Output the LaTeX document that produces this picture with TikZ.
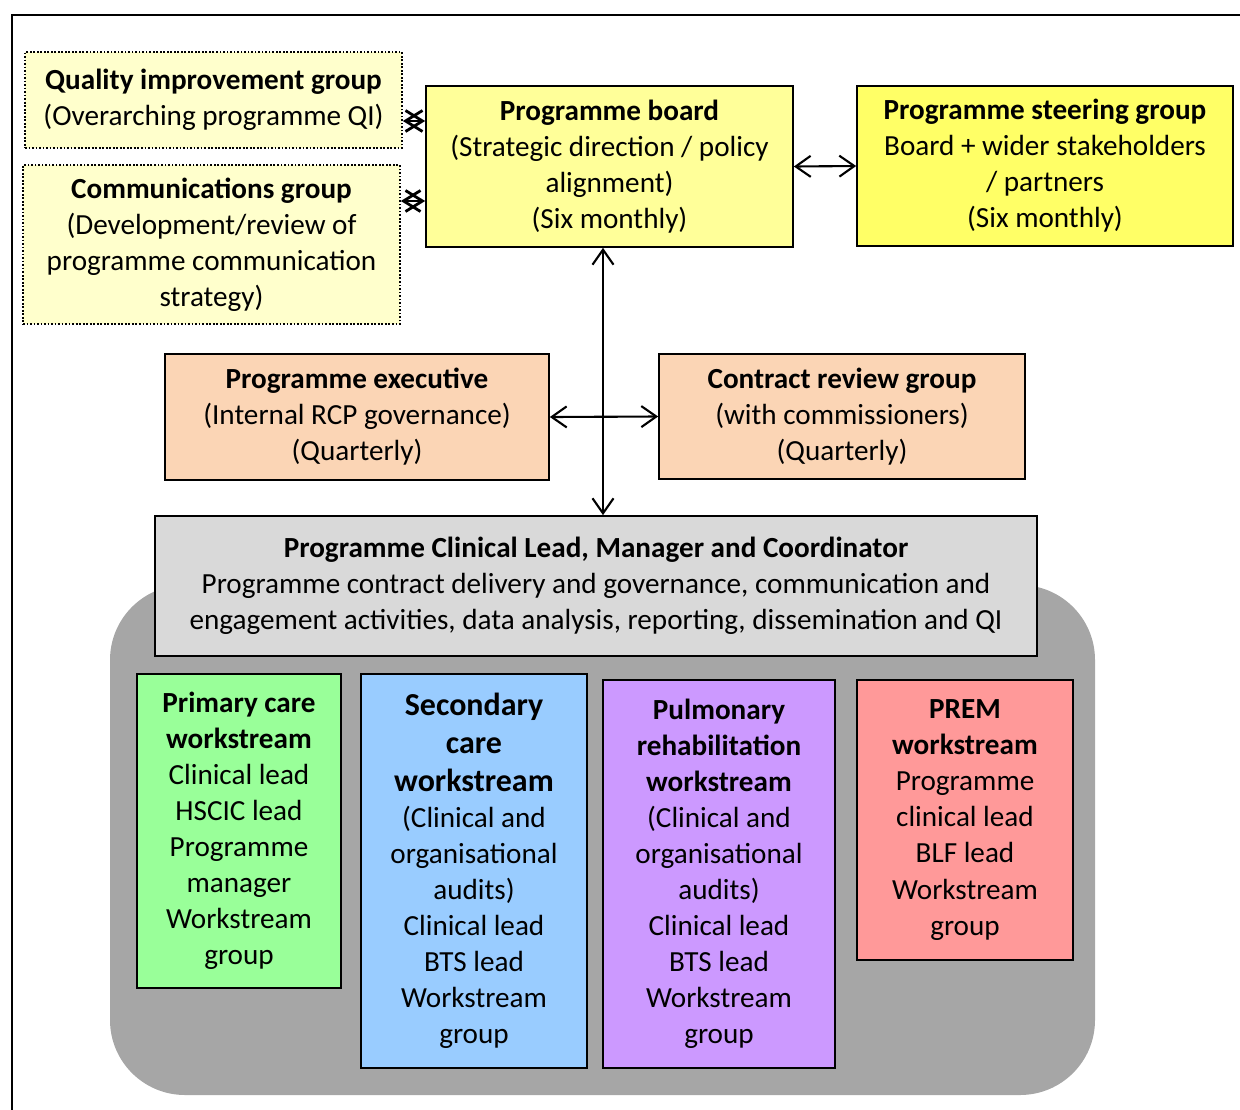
\documentclass[tikz,border=0pt]{standalone}
\usepackage{fontspec}
\setmainfont{Carlito}
\usetikzlibrary{arrows.meta}

\definecolor{jaunepale}{HTML}{FFFFCC}
\definecolor{jaunebord}{HTML}{FFFF99}
\definecolor{jaunevif}{HTML}{FFFF66}
\definecolor{peche}{HTML}{FBD5B5}
\definecolor{grisclair}{HTML}{D9D9D9}
\definecolor{grisfond}{HTML}{A6A6A6}
\definecolor{vert}{HTML}{99FF99}
\definecolor{bleu}{HTML}{99CCFF}
\definecolor{violet}{HTML}{CC99FF}
\definecolor{rose}{HTML}{FF9999}

\begin{document}
\begin{tikzpicture}[x=0.02cm, y=-0.02cm,
		font=\fontsize{16.6}{20.5}\selectfont,
		boite/.style={draw, line width=1pt, align=center, inner sep=0pt},
		pointille/.style={boite, densely dotted},
		fleche/.style={{Straight Barb[length=0.3cm,width=0.42cm]}-{Straight Barb[length=0.3cm,width=0.42cm]}, line width=1.2pt},
		petitefleche/.style={{Straight Barb[length=0.34cm,width=0.42cm]}-{Straight Barb[length=0.34cm,width=0.42cm]}, line width=1.6pt}]
				% Cadre
				\useasboundingbox		(0,0)		rectangle	(1240,1109)	;
				\draw [line width=1.3pt]	(12,1120)	-- (12,15) -- (1250,15)	;
				% Fond
				\fill [color=grisfond, rounded corners=1.5cm]	(110,585)	rectangle	(1095,1095)	;
				% Groupes
				\node [pointille, fill=jaunepale, minimum width=7.54cm, minimum height=1.92cm]	(qi)	at (213.5,100)
					{\textbf{Quality improvement group}\\(Overarching programme QI)};
				\node [pointille, fill=jaunepale, minimum width=7.54cm, minimum height=3.18cm]	(comm)	at (211.5,244.5)
					{\textbf{Communications group}\\(Development/review of\\programme communication\\strategy)};
				\node [boite, fill=jaunebord, minimum width=7.34cm, minimum height=3.22cm]	(board)	at (609.5,166.5)
					{\textbf{Programme board}\\(Strategic direction / policy\\alignment)\\(Six monthly)};
				\node [boite, fill=jaunevif, minimum width=7.52cm, minimum height=3.2cm]	(steering)	at (1045,166)
					{\textbf{Programme steering group}\\Board + wider stakeholders\\/ partners\\(Six monthly)};
				\node [boite, fill=peche, minimum width=7.68cm, minimum height=2.52cm]	(exec)	at (357,417)
					{\textbf{Programme executive}\\(Internal RCP governance)\\(Quarterly)};
				\node [boite, fill=peche, minimum width=7.32cm, minimum height=2.5cm]	(contract)	at (842,416.5)
					{\textbf{Contract review group}\\(with commissioners)\\(Quarterly)};
				\node [boite, fill=grisclair, minimum width=17.64cm, minimum height=2.8cm]	(lead)	at (596,586)
					{\textbf{Programme Clinical Lead, Manager and Coordinator}\\Programme contract delivery and governance, communication and\\engagement activities, data analysis, reporting, dissemination and QI};
				% Workstreams
				\node [boite, fill=vert, minimum width=4.08cm, minimum height=6.28cm]	(primary)	at (239,831)
					{\textbf{Primary care}\\\textbf{workstream}\\Clinical lead\\HSCIC lead\\Programme\\manager\\Workstream\\group};
				\node [boite, fill=bleu, minimum width=4.52cm, minimum height=7.88cm]	(secondary)	at (474,871)
					{{\fontsize{18.2}{22}\selectfont\bfseries Secondary}\\[1pt]{\fontsize{18.2}{22}\selectfont\bfseries care}\\[1pt]{\fontsize{18.2}{22}\selectfont\bfseries workstream}\\(Clinical and\\organisational\\audits)\\Clinical lead\\BTS lead\\Workstream\\group};
				\node [boite, fill=violet, minimum width=4.64cm, minimum height=7.76cm]	(pulmonary)	at (719,874)
					{\textbf{Pulmonary}\\\textbf{rehabilitation}\\\textbf{workstream}\\(Clinical and\\organisational\\audits)\\Clinical lead\\BTS lead\\Workstream\\group};
				\node [boite, fill=rose, minimum width=4.32cm, minimum height=5.6cm]	(prem)	at (965,820)
					{\textbf{PREM}\\\textbf{workstream}\\Programme\\clinical lead\\BLF lead\\Workstream\\group};
				% Fleches
				\coordinate (axe)		at (603,0);
				\coordinate (niveauqi)	at (0,121);
				\coordinate (niveaucom)	at (0,201);
				\draw [fleche]		(board.south -| axe)	-- (lead.north -| axe);
				\draw [fleche]		(exec.east)			-- (contract.west);
				\draw [fleche]		(board.east)			-- (steering.west);
				\draw [petitefleche]	(qi.east |- niveauqi)	-- (board.west |- niveauqi);
				\draw [petitefleche]	(comm.east |- niveaucom)	-- (board.west |- niveaucom);
\end{tikzpicture}
\end{document}
